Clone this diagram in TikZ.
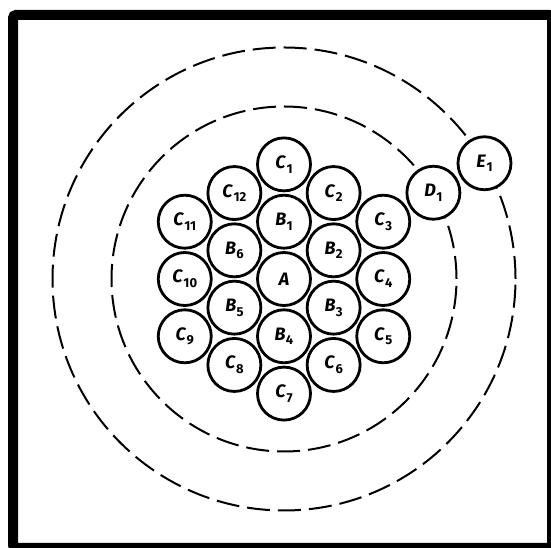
\documentclass[tikz,border=0pt]{standalone}
\usepackage{fontspec}
\setmainfont{Fira Sans}
\usetikzlibrary{calc, positioning}

\newcommand{\atom}[2]{\textit{#1}\kern0.3pt\raisebox{-0.5ex}{\fontsize{13}{13}\selectfont #2}}

\begin{document}
\begin{tikzpicture}[x=1pt,y=1pt]
\def\dist{57.3}
\tikzset{
  ball/.style={circle, draw, line width=2.8pt, minimum size=53pt, inner sep=0pt,
    fill=white, font=\fontsize{18}{18}\selectfont\bfseries},
  orbit/.style={line width=2pt, dash pattern=on 23pt off 8pt},
  frame/.style={line width=10pt, rounded corners=3pt},
}
\useasboundingbox (0,0) rectangle (551,548);
\draw[frame] (13,533) rectangle (552,0);

\coordinate (O) at (284,269);
\draw[orbit] (O) circle (172.5);
\draw[orbit] (O) circle (231.5);

% centre and first shell
\node[ball] (A) at (O) {\textit{A}};
\foreach \i [evaluate=\i as \ang using 90-60*(\i-1)] in {1,...,6}
  \node[ball] (B\i) at ($(O)+(\ang:\dist)$) {\atom{B}{\i}};

% second shell
\foreach \i [evaluate=\i as \ang using 90-30*(\i-1)] in {1,3,...,11}
  \node[ball] (C\i) at ($(O)+(\ang:{2*\dist})$) {\atom{C}{\i}};
\foreach \i [evaluate=\i as \ang using 90-30*(\i-1)] in {2,4,...,12}
  \node[ball] (C\i) at ($(O)+(\ang:{sqrt(3)*\dist})$) {\atom{C}{\i}};

% outer atoms on the orbits
\node[ball] (D1) at ($(O)+(30:172.5)$) {\atom{D}{1}};
\node[ball] (E1) at ($(O)+(30:231.5)$) {\atom{E}{1}};
\end{tikzpicture}
\end{document}
